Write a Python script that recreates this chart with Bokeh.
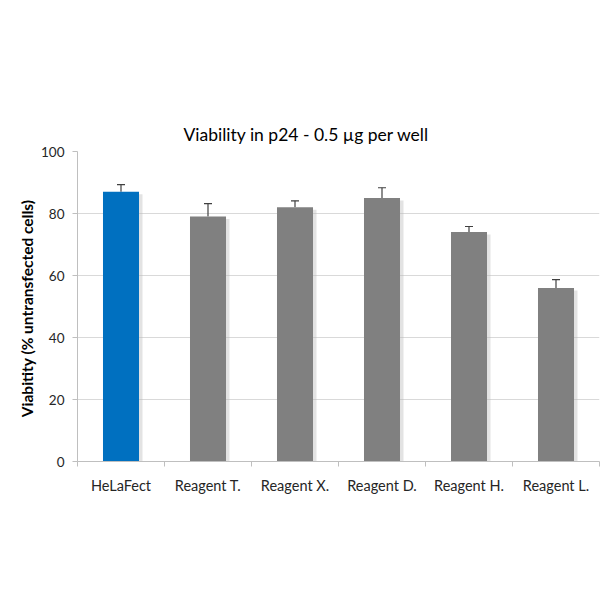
from bokeh.plotting import figure
from bokeh.models import ColumnDataSource, FixedTicker, Whisker, Range1d, TeeHead
from bokeh.embed import file_html
from bokeh.resources import INLINE

categories = ["HeLaFect", "Reagent T.", "Reagent X.", "Reagent D.", "Reagent H.", "Reagent L."]
viability = [87, 79, 82, 85, 74, 56]
errors = [2.3, 4.2, 2.1, 3.3, 1.8, 2.7]
bar_colors = ["#0070C0", "#808080", "#808080", "#808080", "#808080", "#808080"]
y_ticks = [0, 20, 40, 60, 80, 100]

FONT = "Lato"

xpos = [i + 0.5 for i in range(len(categories))]
src = ColumnDataSource(dict(
    x=xpos,
    xs=[x + 0.04 for x in xpos],
    top=viability,
    stop=[v - 0.8 for v in viability],
    upper=[v + e for v, e in zip(viability, errors)],
    color=bar_colors,
))

p = figure(width=600, height=600, output_backend="svg", toolbar_location=None,
           x_range=Range1d(0, len(categories)), y_range=Range1d(0, 100),
           min_border_left=77, min_border_right=1, min_border_top=151, min_border_bottom=139)
p.background_fill_color = "white"
p.border_fill_color = "white"
p.outline_line_color = None

# soft shadow
p.vbar(x="xs", top="stop", bottom=0, width=0.414, source=src, fill_color="#b8b8b8",
       fill_alpha=0.4, line_color=None)
p.vbar(x="x", top="top", bottom=0, width=0.414, source=src, fill_color="color", line_color=None)

w = Whisker(base="x", upper="upper", lower="top", source=src, line_color="#404040", line_width=1.2,
            upper_head=TeeHead(size=8, line_color="#404040", line_width=1.2), lower_head=None)
p.add_layout(w)

p.title.text = "Viability in p24 - 0.5 \u00b5g per well"
p.title.text_font = FONT
p.title.text_font_size = "17.5px"
p.title.text_font_style = "normal"
p.title.text_color = "#000000"
p.title.align = "left"
p.title.offset = 106
p.title.standoff = 14

p.xaxis.ticker = FixedTicker(ticks=xpos, minor_ticks=list(range(len(categories) + 1)))
p.xaxis.major_label_overrides = {x: c for x, c in zip(xpos, categories)}
p.xaxis.major_tick_line_color = None
p.xaxis.minor_tick_line_color = "#BFBFBF"
p.xaxis.minor_tick_in = 0
p.xaxis.minor_tick_out = 5
p.xaxis.axis_line_color = "#BFBFBF"
p.xaxis.major_label_text_font = FONT
p.xaxis.major_label_text_font_size = "14.5px"
p.xaxis.major_label_text_color = "#262626"
p.xaxis.major_label_standoff = 9

p.yaxis.ticker = FixedTicker(ticks=y_ticks, minor_ticks=[])
p.yaxis.axis_line_color = "#BFBFBF"
p.yaxis.major_tick_line_color = "#BFBFBF"
p.yaxis.major_tick_in = 0
p.yaxis.major_tick_out = 5
p.yaxis.major_label_text_font = FONT
p.yaxis.major_label_text_font_size = "13.5px"
p.yaxis.major_label_text_color = "#262626"
p.yaxis.major_label_standoff = 8
p.yaxis.axis_label = "Viabitity  (% untransfected cells)"
p.yaxis.axis_label_text_font = FONT
p.yaxis.axis_label_text_font_size = "15.5px"
p.yaxis.axis_label_text_font_style = "bold"
p.yaxis.axis_label_text_color = "#000000"
p.yaxis.axis_label_standoff = 2

p.xgrid.grid_line_color = None
p.ygrid.grid_line_color = "#D9D9D9"
p.ygrid.grid_line_width = 1

open("out.html", "w").write(file_html(p, INLINE))
